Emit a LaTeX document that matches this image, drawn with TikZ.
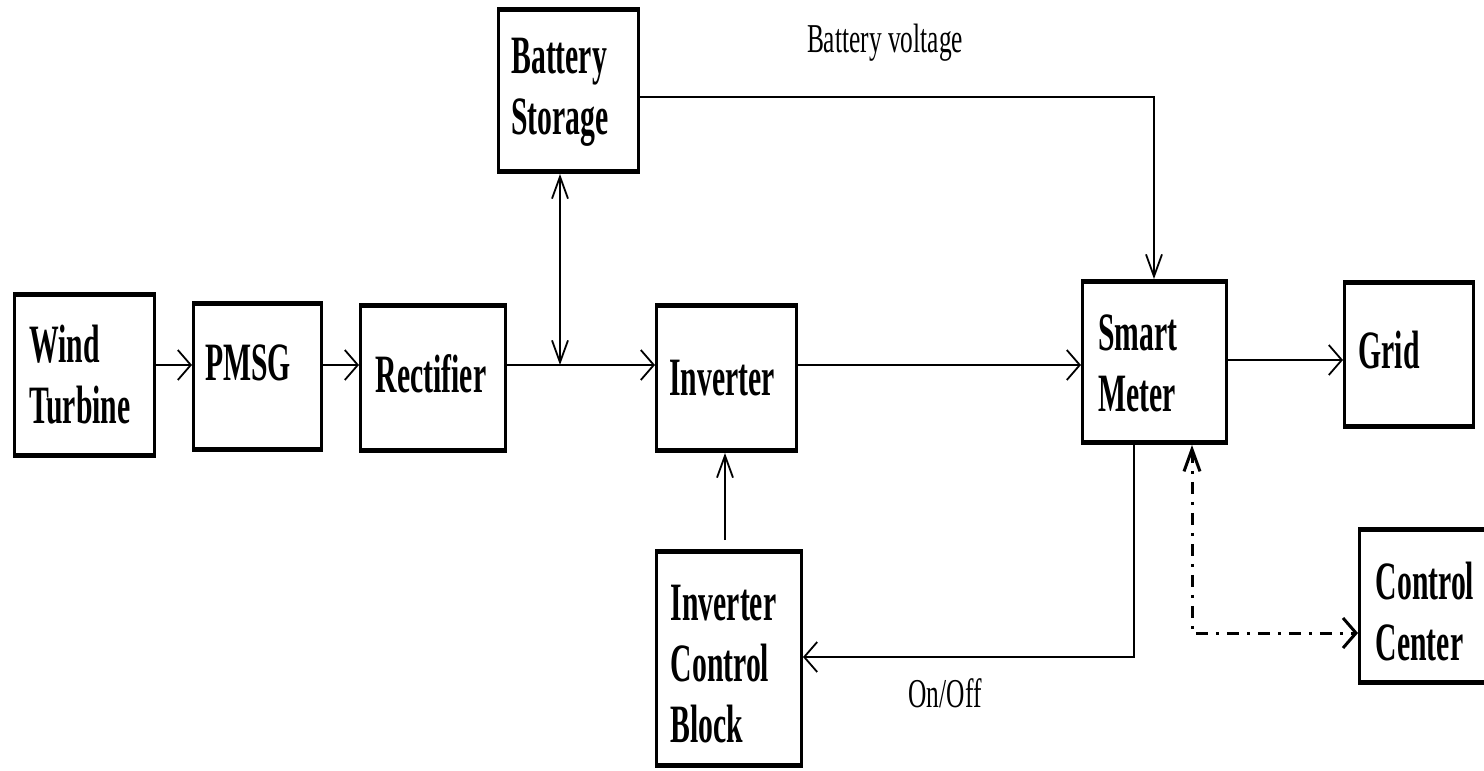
\documentclass[tikz,border=0pt]{standalone}
\usepackage{fontspec}
\newfontfamily\boxfont{Liberation Serif}[FakeStretch=0.55]
\newfontfamily\labfont{Liberation Serif}[FakeStretch=0.62]
\usetikzlibrary{arrows.meta}
\tikzset{
  Htip/.tip={Straight Barb[length=6.5pt,width=15pt]},
  Vtip/.tip={Straight Barb[length=11pt,width=8pt]},
  blk/.style={draw, line width=1.5pt, inner sep=0pt},
  txt/.style={font=\boxfont\bfseries\fontsize{27}{30.5}\selectfont, align=left, inner sep=0pt},
  lab/.style={font=\labfont\fontsize{20.5}{24}\selectfont, inner sep=0pt},
  conn/.style={line width=0.9pt},
  dd/.style={line width=1.5pt, dash pattern=on 6pt off 4pt on 1.5pt off 4pt},
}
\begin{document}
\begin{tikzpicture}[x=0.5pt,y=-0.5pt]
\useasboundingbox (0,0) rectangle (1484,771);
% boxes
\node[blk, minimum width=70pt,   minimum height=81.5pt] (wt)   at (84.5,375)  {};
\node[blk, minimum width=64pt,   minimum height=74pt]   (pmsg) at (257.5,376.5) {};
\node[blk, minimum width=72.5pt, minimum height=73.5pt] (rect) at (433,378)   {};
\node[blk, minimum width=70pt,   minimum height=82pt]   (batt) at (568.5,90.5) {};
\node[blk, minimum width=70pt,   minimum height=73.5pt] (inv)  at (726.5,378) {};
\node[blk, minimum width=72pt,   minimum height=81.5pt] (sm)   at (1154.5,362) {};
\node[blk, minimum width=64.5pt, minimum height=73pt]   (grid) at (1409,354.5) {};
\node[blk, minimum width=73.5pt, minimum height=77.5pt] (cc)   at (1433,606)  {};
\node[blk, minimum width=72.5pt, minimum height=108pt]  (icb)  at (729,658.5)  {};
\foreach \n in {wt,pmsg,rect,batt,inv,sm,grid,cc,icb} {
  \draw[line width=2.5pt] ([yshift=-1.25pt]\n.north west) -- ([yshift=-1.25pt]\n.north east);
  \draw[line width=2.5pt] ([yshift=1.25pt]\n.south west) -- ([yshift=1.25pt]\n.south east);
}
% texts
\node[txt] (twt)   at (80,375)    {Wind\\Turbine};
\node[txt] (tpmsg) at (248,363)   {PMSG};
\node[txt] (trect) at (431,374)   {Rectifier};
\node[txt] (tbatt) at (560,92)    {Battery\\Storage};
\node[txt] (tinv)  at (722,378)   {Inverter};
\node[txt] (tsm)   at (1138,363)  {Smart\\Meter};
\node[txt] (tgrid) at (1389,350)  {Grid};
\node[txt] (tcc)   at (1425,612)  {Control\\Center};
\node[txt] (ticb)  at (723.5,664) {Inverter\\Control\\Block};
\node[lab, anchor=base] (bvl)   at (885,52)  {Battery voltage};
\node[lab, anchor=base] (onoff) at (945,707) {On/Off};
% connectors
\coordinate (m) at (0,365);
\coordinate (j) at (560,365);
\coordinate (g) at (0,360);
\coordinate (bv) at (1154,97);
\coordinate (ic) at (725,540);
\coordinate (oo) at (1134,657);
\coordinate (dc) at (1192,633);
\draw[conn,-Htip] (wt.east |- m) -- (pmsg.west |- m);
\draw[conn,-Htip] (pmsg.east |- m) -- (rect.west |- m);
\draw[conn,-Htip] (rect.east |- m) -- (inv.west |- m);
\draw[conn,Vtip-Vtip] (batt.south -| j) -- (j);
\draw[conn,-Htip] (inv.east |- m) -- (sm.west |- m);
\draw[conn,-Htip] (sm.east |- g) -- (grid.west |- g);
\draw[conn,-Vtip] (batt.east |- bv) -- (bv) -- (sm.north -| bv);
\draw[conn,-Vtip] (ic) -- (inv.south -| ic);
\draw[conn,-Htip] (sm.south -| oo) -- (oo) -- (icb.east |- oo);
\draw[dd,Vtip-Htip] (sm.south -| dc) -- (dc) -- (cc.west |- dc);
\end{tikzpicture}
\end{document}
